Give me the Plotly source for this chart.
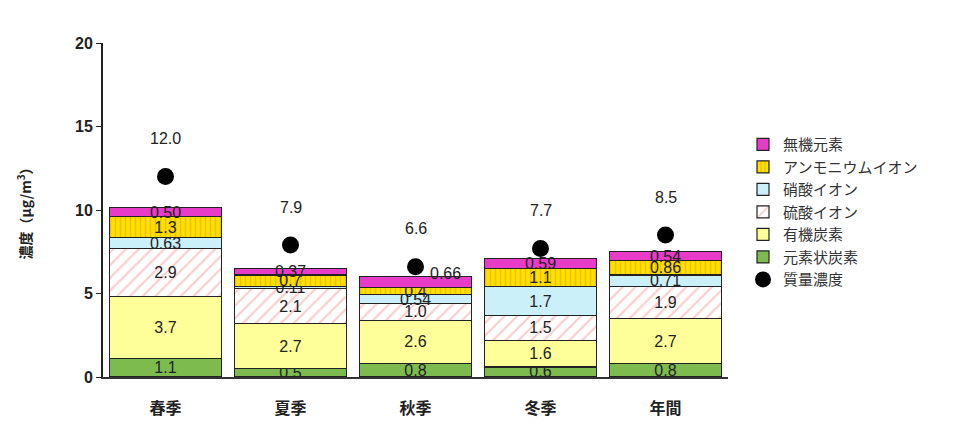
import plotly.graph_objects as go
import numpy as np

categories = ["春季", "夏季", "秋季", "冬季", "年間"]
ec = [1.1, 0.5, 0.8, 0.6, 0.8]          # 元素状炭素
oc = [3.7, 2.7, 2.6, 1.6, 2.7]          # 有機炭素
sulfate = [2.9, 2.1, 1.0, 1.5, 1.9]     # 硫酸イオン
nitrate = [0.63, 0.11, 0.54, 1.7, 0.71] # 硝酸イオン
ammonium = [1.3, 0.7, 0.4, 1.1, 0.86]   # アンモニウムイオン
inorganic = [0.50, 0.37, 0.66, 0.59, 0.54]  # 無機元素
mass = [12.0, 7.9, 6.6, 7.7, 8.5]       # 質量濃度

ec_lbl = ["1.1", "0.5", "0.8", "0.6", "0.8"]
oc_lbl = ["3.7", "2.7", "2.6", "1.6", "2.7"]
su_lbl = ["2.9", "2.1", "1.0", "1.5", "1.9"]
ni_lbl = ["0.63", "0.11", "0.54", "1.7", "0.71"]
am_lbl = ["1.3", "0.7", "0.4", "1.1", "0.86"]
in_lbl = ["0.50", "0.37", "", "0.59", "0.54"]
mass_lbl = ["12.0", "7.9", "6.6", "7.7", "8.5"]

NUMFONT = "Arial, Liberation Sans, sans-serif"
JPFONT = "Noto Sans CJK JP, sans-serif"

fig = go.Figure()

def add_bar(name, vals, lbls, color, rank, pattern=None):
    marker = dict(color=color, line=dict(color="#222222", width=1.2))
    if pattern:
        marker["pattern"] = pattern
    fig.add_trace(go.Bar(
        name=name, x=categories, y=vals, text=lbls, legendrank=rank,
        textposition="inside", insidetextanchor="middle", textangle=0,
        constraintext="none",
        textfont=dict(family=NUMFONT, size=16, color="#222222"),
        marker=marker, hoverinfo="skip",
    ))

add_bar("元素状炭素", ec, ec_lbl, "#7dbb4f", 6)
add_bar("有機炭素", oc, oc_lbl, "#ffff99", 5)
add_bar("硫酸イオン", sulfate, su_lbl, "#ffffff", 4,
        dict(shape="/", fgcolor="#f2a0a0", bgcolor="#ffffff", size=9, solidity=0.25))
add_bar("硝酸イオン", nitrate, ni_lbl, "#ccf0fa", 3)
add_bar("アンモニウムイオン", ammonium, am_lbl, "#ffe000", 2,
        dict(shape="|", fgcolor="#e0a000", bgcolor="#ffe000", size=5, solidity=0.3))
add_bar("無機元素", inorganic, in_lbl, "#e83cc8", 1)

fig.add_trace(go.Scatter(
    name="質量濃度", x=categories, y=mass, mode="markers", legendrank=7,
    marker=dict(color="black", size=17), hoverinfo="skip",
))

for c, m, t in zip(categories, mass, mass_lbl):
    fig.add_annotation(x=c, y=m, text=t, showarrow=False, yshift=38,
                       font=dict(family=NUMFONT, size=16, color="#222222"))

# autumn inorganic label placed beside the bar
tops = np.sum([ec, oc, sulfate, nitrate, ammonium, inorganic], axis=0)
fig.add_annotation(x=categories[2], y=tops[2], text="0.66", showarrow=False,
                   xshift=30, yshift=3,
                   font=dict(family=NUMFONT, size=16, color="#222222"))

fig.update_layout(
    barmode="stack", bargap=0.1,
    width=955, height=434,
    margin=dict(l=95, r=235, t=35, b=65),
    paper_bgcolor="white", plot_bgcolor="white",
    font=dict(family=JPFONT),
    showlegend=True,
    legend=dict(x=1.024, y=0.745, xanchor="left", yanchor="top",
                traceorder="normal", font=dict(family=JPFONT, size=15, color="#333333"),
                tracegroupgap=0, itemwidth=30, bgcolor="rgba(0,0,0,0)"),
)
fig.update_xaxes(showline=True, linecolor="#333333", linewidth=2,
                 tickfont=dict(family=JPFONT, size=16, color="#222222", weight="bold"),
                 ticks="", showgrid=False, ticklabelstandoff=16)
fig.update_yaxes(range=[0, 20], dtick=5, showline=True, linecolor="#222222", linewidth=2,
                 ticks="outside", ticklen=5, tickcolor="#222222", showgrid=False,
                 tickfont=dict(family=NUMFONT, size=16, color="#222222", weight="bold"),
                 title=dict(text="<b>濃度（μg/m<sup>3</sup>）</b>", font=dict(family=JPFONT, size=14, color="#222222"),
                            standoff=40),
                 zeroline=False)

fig.write_html("out.html")
